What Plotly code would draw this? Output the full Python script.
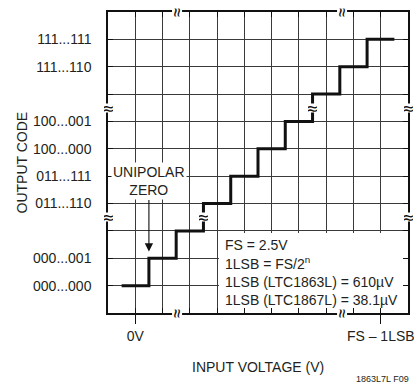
import plotly.graph_objects as go

# staircase transfer function (grid units)
step_x = [0.5, 1.5, 2.5, 3.5, 4.5, 5.5, 6.5, 7.5, 8.5, 9.5, 10.5]
step_y = [1, 2, 3, 4, 5, 6, 7, 8, 9, 10, 10]

code_pos = [0, 1, 2, 3, 4, 5, 6, 7, 8, 9, 10, 11]
code_labels = ["", "000...000", "000...001", "", "011...110", "011...111",
               "100...000", "100...001", "", "111...110", "111...111", ""]
volt_pos = [1, 10]
volt_labels = ["0V", "FS – 1LSB"]

note_lines = ["FS = 2.5V", "1LSB = FS/2<sup>n</sup>",
              "1LSB (LTC1863L) = 610µV", "1LSB (LTC1867L) = 38.1µV"]

FONT = "Liberation Sans, Arial, sans-serif"
INK = "#231f20"
GRIDC = "#3a3a3a"

fig = go.Figure()
fig.add_scatter(x=step_x, y=step_y, mode="lines", line_shape="hv",
                line=dict(color="#111", width=3), hoverinfo="skip")
fig.add_scatter(x=[1], y=[1], xaxis="x2", mode="markers",
                marker=dict(opacity=0), hoverinfo="skip")

# white box behind the note text (hides grid, keeps ticks)
fig.add_shape(type="rect", x0=4.07, x1=10.96, y0=0.18, y1=2.92,
              fillcolor="white", line_width=0, layer="between")

for i, t in enumerate(note_lines):
    fig.add_annotation(x=4.22, y=2.48 - i * 0.67, text=t, showarrow=False,
                       xanchor="left", yanchor="middle",
                       font=dict(size=14, color=INK, family=FONT))

fig.add_annotation(x=1.5, y=2.25, ax=0, ay=-70, text="UNIPOLAR<br>ZERO",
                   showarrow=True, arrowhead=2, arrowsize=1.5, arrowwidth=1.1,
                   arrowcolor="#111", bgcolor="white", borderpad=1,
                   font=dict(size=14, color=INK, family=FONT))

# axis breaks
for bx, by, ang in [(0, 3.5, 0), (0, 7.5, 0), (11, 3.5, 0), (11, 7.5, 0),
                    (3.5, 3.5, 0), (7.5, 7.5, 0),
                    (2.55, 0, 90), (8.6, 0, 90), (2.55, 11, 90), (8.6, 11, 90)]:
    fig.add_annotation(x=bx, y=by, text="≈", showarrow=False, textangle=ang,
                       bgcolor="white", borderpad=0,
                       width=9 if ang == 0 else 8, height=8 if ang == 0 else 9,
                       font=dict(size=16, color="#111", family="DejaVu Sans"))

fig.add_annotation(x=0.5, y=0, xref="paper", yref="paper", yshift=-54,
                   xanchor="center", yanchor="middle",
                   text="INPUT VOLTAGE (V)", showarrow=False,
                   font=dict(size=14, color=INK, family=FONT))
fig.add_annotation(x=0, y=0.5, xref="paper", yref="paper", xshift=-87,
                   xanchor="center", yanchor="middle",
                   text="OUTPUT CODE", textangle=-90, showarrow=False,
                   font=dict(size=14, color=INK, family=FONT))
fig.add_annotation(x=1, y=0, xref="paper", yref="paper", xshift=-26, yshift=-66,
                   xanchor="center", yanchor="middle",
                   text="1863L7L F09", showarrow=False,
                   font=dict(size=9, color=INK, family=FONT))

fig.update_layout(
    width=414, height=386, margin=dict(l=108, r=6, t=12, b=73),
    paper_bgcolor="white", plot_bgcolor="white", showlegend=False,
    font=dict(family=FONT, size=14, color=INK),
    xaxis=dict(range=[0, 11], tickvals=code_pos, showticklabels=False,
               ticks="inside", ticklen=5, tickcolor="#111", mirror="ticks",
               showline=True, linecolor="#111", linewidth=1.5,
               showgrid=True, gridcolor=GRIDC, gridwidth=1, zeroline=False,
               automargin=False),
    xaxis2=dict(range=[0, 11], overlaying="x", anchor="y", side="bottom",
                tickvals=volt_pos, ticktext=volt_labels, ticks="outside",
                ticklen=10, tickcolor="#111", showline=False, showgrid=False,
                zeroline=False, automargin=False, ticklabeloverflow="allow",
                tickfont=dict(size=14, color=INK, family=FONT)),
    yaxis=dict(range=[0, 11], tickvals=code_pos, ticktext=code_labels,
               ticks="inside", ticklen=5, tickcolor="#111", mirror="ticks",
               showline=True, linecolor="#111", linewidth=1.5,
               showgrid=True, gridcolor=GRIDC, gridwidth=1, zeroline=False,
               automargin=False, ticklabelstandoff=12,
               tickfont=dict(size=14, color=INK, family=FONT)),
)

# drop the browser's default 8px body margin so the figure fills the window
fig.write_html("out.html", config={"displayModeBar": False},
               post_script="document.body.style.margin='0';")
